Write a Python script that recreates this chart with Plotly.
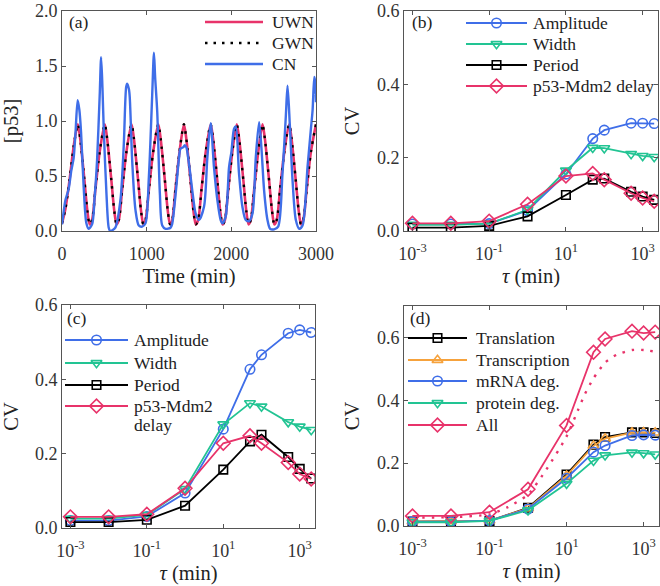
import plotly.graph_objects as go

# ---------------- Panel (a): time series ----------------
uwn_t = [0, 40, 90, 140, 187, 215, 265, 300, 327,
         355, 395, 445, 505, 533, 583, 618, 645,
         671, 711, 761, 821, 849, 899, 934, 961,
         987, 1027, 1077, 1137, 1165, 1215, 1250, 1277,
         1300, 1340, 1388, 1440, 1468, 1518, 1553, 1580,
         1608, 1648, 1698, 1756, 1784, 1834, 1869, 1896,
         1924, 1964, 2012, 2064, 2092, 2142, 2177, 2204,
         2230, 2270, 2318, 2368, 2396, 2446, 2481, 2508,
         2536, 2576, 2626, 2683, 2711, 2761, 2796, 2823,
         2850, 2890, 2940, 3000]
uwn_v = [0.07, 0.20, 0.47, 0.78, 0.97, 0.84, 0.46, 0.18, 0.06,
         0.10, 0.38, 0.72, 0.97, 0.84, 0.46, 0.18, 0.06,
         0.10, 0.38, 0.72, 0.97, 0.84, 0.46, 0.18, 0.06,
         0.10, 0.38, 0.72, 0.97, 0.84, 0.46, 0.18, 0.06,
         0.09, 0.38, 0.72, 0.97, 0.84, 0.46, 0.18, 0.06,
         0.10, 0.38, 0.72, 0.97, 0.84, 0.46, 0.18, 0.06,
         0.10, 0.38, 0.72, 0.97, 0.84, 0.46, 0.18, 0.06,
         0.10, 0.38, 0.72, 0.97, 0.84, 0.46, 0.18, 0.06,
         0.10, 0.38, 0.72, 0.97, 0.84, 0.46, 0.18, 0.06,
         0.10, 0.38, 0.72, 0.97]
gwn_t = uwn_t
gwn_v = [0.07, 0.20, 0.47, 0.78, 0.97, 0.84, 0.46, 0.18, 0.06,
         0.10, 0.38, 0.72, 0.97, 0.84, 0.46, 0.18, 0.06,
         0.10, 0.38, 0.72, 0.97, 0.84, 0.46, 0.18, 0.06,
         0.10, 0.38, 0.72, 0.97, 0.84, 0.46, 0.18, 0.06,
         0.09, 0.38, 0.72, 0.97, 0.84, 0.46, 0.18, 0.06,
         0.10, 0.38, 0.72, 0.97, 0.84, 0.46, 0.18, 0.06,
         0.10, 0.38, 0.72, 0.97, 0.84, 0.46, 0.18, 0.06,
         0.10, 0.38, 0.72, 0.97, 0.84, 0.46, 0.18, 0.06,
         0.10, 0.38, 0.72, 0.97, 0.84, 0.46, 0.18, 0.06,
         0.10, 0.38, 0.72, 0.97]
cn_t = [0, 12, 40, 78, 110, 137, 160, 185, 205, 225, 256, 288, 315, 355,
        385, 414, 445, 462, 478, 493, 525, 552, 570, 600, 630, 690, 730,
        758, 770, 790, 800, 829, 868, 907, 947, 986, 1026, 1065, 1086,
        1100, 1125, 1156, 1184, 1223, 1282, 1300, 1340, 1380, 1400, 1430,
        1450, 1470, 1480, 1510, 1545, 1578, 1617, 1677, 1717, 1756, 1795,
        1835, 1874, 1894, 1933, 1973, 2001, 2032, 2052, 2091, 2131, 2170,
        2210, 2250, 2289, 2328, 2356, 2387, 2427, 2458, 2505, 2553, 2604,
        2644, 2664, 2691, 2723, 2762, 2802, 2841, 2900, 2940, 2960, 2980,
        2992, 3000]
cn_v = [0.06, 0.13, 0.28, 0.38, 0.55, 0.66, 0.90, 1.19, 1.10, 0.90, 0.40,
        0.07, 0.02, 0.06, 0.30, 0.64, 1.23, 1.58, 1.30, 0.93, 0.34, 0.03,
        0.00, 0.01, 0.03, 0.28, 0.79, 1.31, 1.34, 1.29, 1.22, 0.64, 0.19,
        0.05, 0.04, 0.07, 0.49, 1.23, 1.62, 1.40, 1.08, 0.34, 0.05, 0.02,
        0.03, 0.06, 0.32, 0.65, 0.75, 0.76, 0.78, 0.76, 0.72, 0.55, 0.33,
        0.16, 0.10, 0.22, 0.67, 0.98, 0.58, 0.28, 0.10, 0.07, 0.13, 0.58,
        0.72, 0.93, 0.95, 0.52, 0.22, 0.10, 0.09, 0.16, 0.67, 0.99, 0.75,
        0.37, 0.10, 0.02, 0.015, 0.04, 0.52, 1.05, 1.32, 0.96, 0.46, 0.10,
        0.02, 0.05, 0.58, 0.93, 1.10, 1.40, 1.35, 1.17]

# ---------------- CV panels ----------------
tau = [0.001, 0.01, 0.1, 1, 10, 50, 100, 500, 1000, 2000]

b_amplitude = [0.019, 0.019, 0.020, 0.056, 0.155, 0.252, 0.275, 0.294, 0.294, 0.293]
b_width = [0.017, 0.017, 0.020, 0.058, 0.165, 0.227, 0.226, 0.210, 0.205, 0.202]
b_period = [0.009, 0.009, 0.014, 0.040, 0.098, 0.140, 0.143, 0.107, 0.094, 0.085]
b_delay = [0.021, 0.021, 0.027, 0.073, 0.150, 0.157, 0.140, 0.103, 0.090, 0.081]

c_amplitude = [0.020, 0.020, 0.031, 0.094, 0.266, 0.427, 0.466, 0.524, 0.533, 0.526]
c_width = [0.025, 0.025, 0.035, 0.105, 0.279, 0.336, 0.327, 0.285, 0.273, 0.264]
c_period = [0.016, 0.016, 0.022, 0.060, 0.157, 0.233, 0.251, 0.191, 0.159, 0.133]
c_delay = [0.030, 0.030, 0.037, 0.107, 0.228, 0.248, 0.228, 0.176, 0.145, 0.132]

d_translation = [0.014, 0.014, 0.016, 0.058, 0.164, 0.259, 0.283, 0.298, 0.298, 0.296]
d_transcription = [0.015, 0.015, 0.017, 0.056, 0.160, 0.255, 0.278, 0.297, 0.298, 0.297]
d_mrna = [0.014, 0.014, 0.017, 0.054, 0.152, 0.235, 0.256, 0.288, 0.290, 0.289]
d_protein = [0.012, 0.012, 0.016, 0.050, 0.135, 0.208, 0.225, 0.234, 0.232, 0.228]
d_all = [0.032, 0.032, 0.044, 0.117, 0.320, 0.553, 0.595, 0.620, 0.614, 0.617]

d_dotted_tau = [0.001, 0.01, 0.1, 0.3, 1, 3, 10, 20, 30, 50, 100, 200, 500, 1000, 2000]
d_dotted = [0.027, 0.028, 0.037, 0.060, 0.100, 0.180, 0.285, 0.370, 0.420, 0.470,
            0.520, 0.545, 0.560, 0.560, 0.555]

tick_x_log = [1e-3, 1e-1, 1e1, 1e3]
tick_x_log_text = ['10<sup>-3</sup>', '10<sup>-1</sup>', '10<sup>1</sup>', '10<sup>3</sup>']
tick_cv = [0, 0.2, 0.4, 0.6]
tick_cv_text = ['0.0', '0.2', '0.4', '0.6']
tick_a_y = [0, 0.5, 1.0, 1.5, 2.0]
tick_a_y_text = ['0.0', '0.5', '1.0', '1.5', '2.0']
tick_a_x = [0, 1000, 2000, 3000]

RED = '#E8336A'
BLUE = '#3F6EE8'
GREEN = '#22C493'
ORANGE = '#F6A23C'
BLACK = '#000000'
FONT = 'Liberation Serif, Times New Roman, serif'
TXT = '#222222'

W, H = 660, 586

fig = go.Figure()

# panel (a)
fig.add_trace(go.Scatter(x=uwn_t, y=uwn_v, mode='lines', name='UWN', showlegend=False,
                         line=dict(color=RED, width=2.6, shape='spline', smoothing=0.8),
                         xaxis='x', yaxis='y'))
fig.add_trace(go.Scatter(x=gwn_t, y=gwn_v, mode='lines', name='GWN', showlegend=False,
                         line=dict(color=BLACK, width=2.4, dash='2.5px,6px', shape='spline', smoothing=0.8),
                         xaxis='x', yaxis='y'))
fig.add_trace(go.Scatter(x=cn_t, y=cn_v, mode='lines', name='CN', showlegend=False,
                         line=dict(color=BLUE, width=2.4, shape='spline', smoothing=0.8),
                         xaxis='x', yaxis='y'))

SYM_SIZE = {'circle': 9.5, 'triangle-down': 9.5, 'triangle-up': 9.5, 'square': 8.5, 'diamond': 10.5}


def cv_trace(y, name, color, symbol, ax):
    return go.Scatter(x=tau, y=y, mode='lines+markers', name=name, showlegend=False,
                      line=dict(color=color, width=1.8),
                      marker=dict(symbol=symbol, size=SYM_SIZE[symbol], color='rgba(255,255,255,0)',
                                  line=dict(color=color, width=1.6)),
                      xaxis='x' + ax, yaxis='y' + ax)


# panel (b)
fig.add_trace(cv_trace(b_amplitude, 'Amplitude', BLUE, 'circle', '2'))
fig.add_trace(cv_trace(b_width, 'Width', GREEN, 'triangle-down', '2'))
fig.add_trace(cv_trace(b_period, 'Period', BLACK, 'square', '2'))
fig.add_trace(cv_trace(b_delay, 'p53-Mdm2 delay', RED, 'diamond', '2'))

# panel (c)
fig.add_trace(cv_trace(c_amplitude, 'Amplitude', BLUE, 'circle', '3'))
fig.add_trace(cv_trace(c_width, 'Width', GREEN, 'triangle-down', '3'))
fig.add_trace(cv_trace(c_period, 'Period', BLACK, 'square', '3'))
fig.add_trace(cv_trace(c_delay, 'p53-Mdm2 delay', RED, 'diamond', '3'))

# panel (d)
fig.add_trace(go.Scatter(x=d_dotted_tau, y=d_dotted, mode='lines', showlegend=False,
                         line=dict(color=RED, width=2.4, dash='2.5px,7px', shape='spline', smoothing=0.6),
                         xaxis='x4', yaxis='y4'))
fig.add_trace(cv_trace(d_translation, 'Translation', BLACK, 'square', '4'))
fig.add_trace(cv_trace(d_transcription, 'Transcription', ORANGE, 'triangle-up', '4'))
fig.add_trace(cv_trace(d_mrna, 'mRNA deg.', BLUE, 'circle', '4'))
fig.add_trace(cv_trace(d_protein, 'protein deg.', GREEN, 'triangle-down', '4'))
fig.add_trace(cv_trace(d_all, 'All', RED, 'diamond', '4'))

# ---------------- legends (drawn on a pixel-space overlay axis) ----------------
legends = [
    (205, 263, 270, [(22, 'UWN', RED, None, 'solid'),
                     (43, 'GWN', BLACK, None, '2.5px,6px'),
                     (64, 'CN', BLUE, None, 'solid')]),
    (466, 527, 531, [(23, 'Amplitude', BLUE, 'circle', 'solid'),
                     (44, 'Width', GREEN, 'triangle-down', 'solid'),
                     (65, 'Period', BLACK, 'square', 'solid'),
                     (86, 'p53-Mdm2 delay', RED, 'diamond', 'solid')]),
    (65, 128, 132, [(340, 'Amplitude', BLUE, 'circle', 'solid'),
                    (363, 'Width', GREEN, 'triangle-down', 'solid'),
                    (385, 'Period', BLACK, 'square', 'solid'),
                    (406, 'p53-Mdm2<br>delay', RED, 'diamond', 'solid')]),
    (408, 467, 474, [(338, 'Translation', BLACK, 'square', 'solid'),
                     (360, 'Transcription', ORANGE, 'triangle-up', 'solid'),
                     (381, 'mRNA deg.', BLUE, 'circle', 'solid'),
                     (403, 'protein deg.', GREEN, 'triangle-down', 'solid'),
                     (425, 'All', RED, 'diamond', 'solid')]),
]
for x0, x1, xt, rows in legends:
    for yr, label, color, symbol, dash in rows:
        lw = 2.6 if symbol is None else 1.8
        fig.add_trace(go.Scatter(x=[x0, x1], y=[yr, yr], mode='lines', showlegend=False,
                                 hoverinfo='skip', line=dict(color=color, width=lw, dash=dash),
                                 xaxis='x5', yaxis='y5'))
        if symbol is not None:
            fig.add_trace(go.Scatter(x=[(x0 + x1) / 2], y=[yr], mode='markers', showlegend=False,
                                     hoverinfo='skip',
                                     marker=dict(symbol=symbol, size=SYM_SIZE[symbol],
                                                 color='rgba(255,255,255,0)',
                                                 line=dict(color=color, width=1.6)),
                                     xaxis='x5', yaxis='y5'))
        parts = label.split('<br>')
        for k, part in enumerate(parts):
            fig.add_annotation(text=part, xref='paper', yref='paper', x=xt / W,
                               y=1 - (yr + 19 * k) / H,
                               xanchor='left', yanchor='middle', showarrow=False,
                               font=dict(family=FONT, size=17.5, color=TXT))


def px_x(p):
    return p / W


def px_y(p):
    return 1 - p / H


axis_common = dict(showline=True, linecolor='#555555', linewidth=1, mirror='ticks',
                   ticks='inside', ticklen=4, tickwidth=1, tickcolor='#555555',
                   showgrid=False, zeroline=False, automargin=False, ticklabeloverflow='allow',
                   tickfont=dict(family=FONT, size=18, color='#333333'))
TFONT = dict(family=FONT, size=20.5, color=TXT)

xa_log = dict(type='log', range=[-3.22, 3.40], tickvals=tick_x_log, ticktext=tick_x_log_text)
ya_cv = dict(tickvals=tick_cv, ticktext=tick_cv_text)
XT = dict(ticklabelstandoff=6)
XSTAND = 6
YSTAND = 11

TOP = 11  # top edge of the upper panels (px)

fig.update_layout(
    width=W, height=H, margin=dict(l=0, r=0, t=0, b=0, autoexpand=False),
    paper_bgcolor='white', plot_bgcolor='rgba(0,0,0,0)', showlegend=False,
    font=dict(family=FONT, size=17, color=TXT),
    xaxis=dict(domain=[px_x(62), px_x(316)], anchor='y', range=[0, 3000], tickvals=tick_a_x,
               title=dict(text='Time (min)', standoff=XSTAND, font=TFONT), **XT, **axis_common),
    yaxis=dict(domain=[px_y(231), px_y(TOP)], anchor='x', range=[0, 2], tickvals=tick_a_y,
               ticktext=tick_a_y_text, title=dict(text='[p53]', standoff=17, font=TFONT), **axis_common),
    xaxis2=dict(domain=[px_x(404), px_x(658)], anchor='y2',
                title=dict(text='<i>τ</i> (min)', standoff=XSTAND, font=TFONT), **XT, **xa_log, **axis_common),
    yaxis2=dict(domain=[px_y(231), px_y(TOP)], anchor='x2', range=[0, 0.6],
                title=dict(text='CV', standoff=YSTAND, font=TFONT), **ya_cv, **axis_common),
    xaxis3=dict(domain=[px_x(62), px_x(315)], anchor='y3',
                title=dict(text='<i>τ</i> (min)', standoff=XSTAND, font=TFONT), **XT, **xa_log, **axis_common),
    yaxis3=dict(domain=[px_y(528), px_y(305)], anchor='x3', range=[0, 0.6],
                title=dict(text='CV', standoff=YSTAND + 2, font=TFONT), **ya_cv, **axis_common),
    xaxis4=dict(domain=[px_x(404), px_x(659)], anchor='y4',
                title=dict(text='<i>τ</i> (min)', standoff=XSTAND, font=TFONT), **XT, **xa_log, **axis_common),
    yaxis4=dict(domain=[px_y(526), px_y(306)], anchor='x4', range=[0, 0.7],
                title=dict(text='CV', standoff=YSTAND, font=TFONT), **ya_cv, **axis_common),
    xaxis5=dict(domain=[0, 1], anchor='y5', range=[0, W], visible=False, fixedrange=True),
    yaxis5=dict(domain=[0, 1], anchor='x5', range=[H, 0], visible=False, fixedrange=True),
)

labels = [('(a)', 'x', 'y', 0.018, 11 / 220), ('(b)', 'x2', 'y2', 0.024, 11 / 220),
          ('(c)', 'x3', 'y3', 0.012, 13 / 223), ('(d)', 'x4', 'y4', 0.016, 12 / 220)]
for txt, xr, yr, fx, fy in labels:
    fig.add_annotation(text=txt, xref=xr + ' domain', yref=yr + ' domain', x=fx, y=1 - fy,
                       xanchor='left', yanchor='middle', showarrow=False,
                       font=dict(family=FONT, size=17.5, color=TXT))

fig.write_html('out.html', config={'displayModeBar': False},
               post_script="document.body.style.margin='0';document.body.style.overflow='hidden';")
